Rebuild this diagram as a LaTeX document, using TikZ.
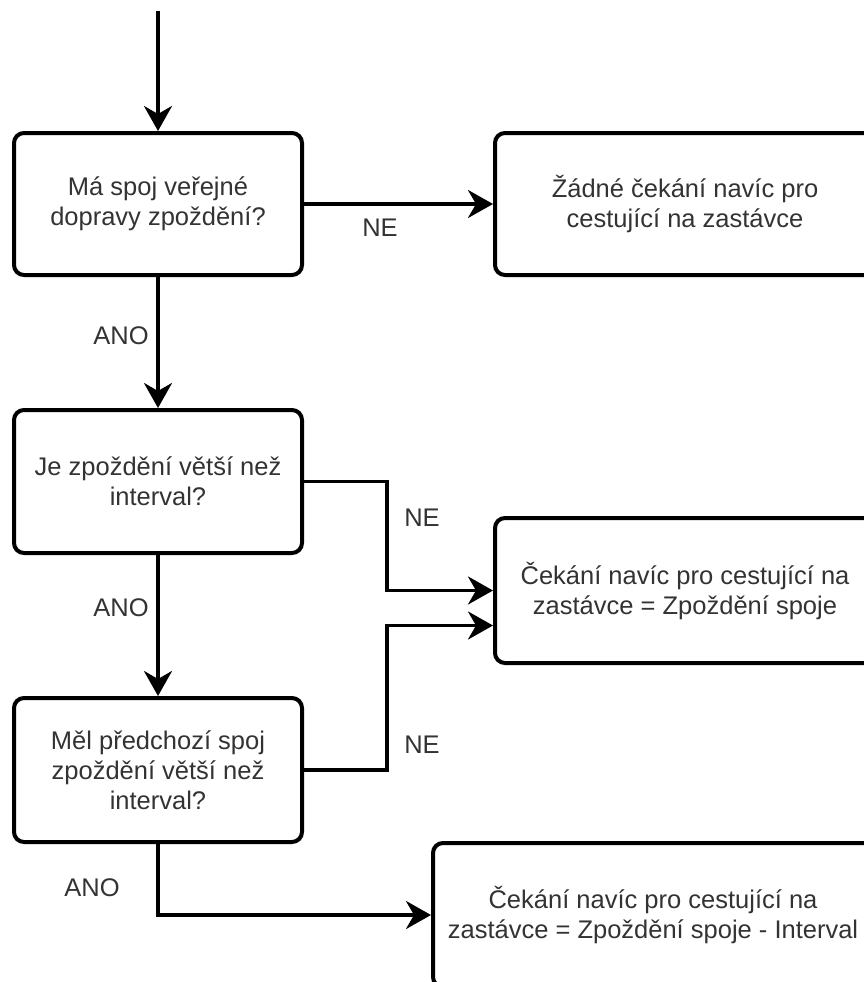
\documentclass[tikz,border=0pt]{standalone}
\usepackage{fontspec}
\setmainfont{Liberation Sans}
\usetikzlibrary{arrows.meta}

\begin{document}
\begin{tikzpicture}
  [x=1pt,y=-1pt,
   box/.style={rectangle, rounded corners=10pt, draw=black, line width=4pt, fill=white,
               align=center, inner sep=0pt, text=black!80,
               font=\fontsize{25.5}{30}\selectfont},
   lbl/.style={draw=none, fill=none, inner sep=0pt, text=black!80,
               font=\fontsize{25.5}{30}\selectfont},
   arr/.style={-{Stealth[length=25pt,width=28pt,inset=8pt]}, line width=3.5pt}]

  \useasboundingbox (0,0) rectangle (864,982);
  \clip (0,0) rectangle (864,982);

  %%%%%%%%%%%%%%%%%%%%%% QUESTIONS %%%%%%%%%%%%%%%%%%%%%%
  \coordinate (start) at (158,11);

  \node[box, minimum width=288pt, minimum height=142pt] (q1) at (158,204)
        {Má spoj veřejné\\dopravy zpoždění?};
  \node[box, minimum width=288pt, minimum height=143pt] (q2) at (158,481.5)
        {Je zpoždění větší než\\interval?};
  \node[box, minimum width=288pt, minimum height=144pt] (q3) at (158,770)
        {Měl předchozí spoj\\zpoždění větší než\\interval?};

  %%%%%%%%%%%%%%%%%%%%%% RESULTS %%%%%%%%%%%%%%%%%%%%%%
  \node[box, minimum width=380pt, minimum height=142pt] (r1) at (685,204)
        {Žádné čekání navíc pro\\cestující na zastávce};
  \node[box, minimum width=380pt, minimum height=145pt] (r2) at (685,590.5)
        {Čekání navíc pro cestující na\\zastávce = Zpoždění spoje};
  \node[box, minimum width=440pt, minimum height=144pt] (r3) at (653,915)
        {Čekání navíc pro cestující na\\zastávce = Zpoždění spoje - Interval};

  %%%%%%%%%%%%%%%%%%%%%% ARROWS %%%%%%%%%%%%%%%%%%%%%%
  \foreach \fromq/\toq in {start/q1,q1/q2,q2/q3}
    \draw[arr] (\fromq) -- (\toq);

  \draw[arr] (q1.east) -- (r1.west);
  \draw[arr] (q2.east) -- ++(83,0) |- (r2.west);
  \draw[arr] (q3.east) -- ++(83,0) |- ([yshift=-35pt]r2.west);
  \draw[arr] (q3.south) |- (r3.west);

  %%%%%%%%%%%%%%%%%%%%%% LABELS %%%%%%%%%%%%%%%%%%%%%%
  \node[lbl] (ne1)  at (380,228) {NE};
  \node[lbl] (ano1) at (121,336) {ANO};
  \node[lbl] (ne2)  at (422,518) {NE};
  \node[lbl] (ano2) at (121,608) {ANO};
  \node[lbl] (ne3)  at (422,745) {NE};
  \node[lbl] (ano3) at (92,888)  {ANO};

\end{tikzpicture}
\end{document}
